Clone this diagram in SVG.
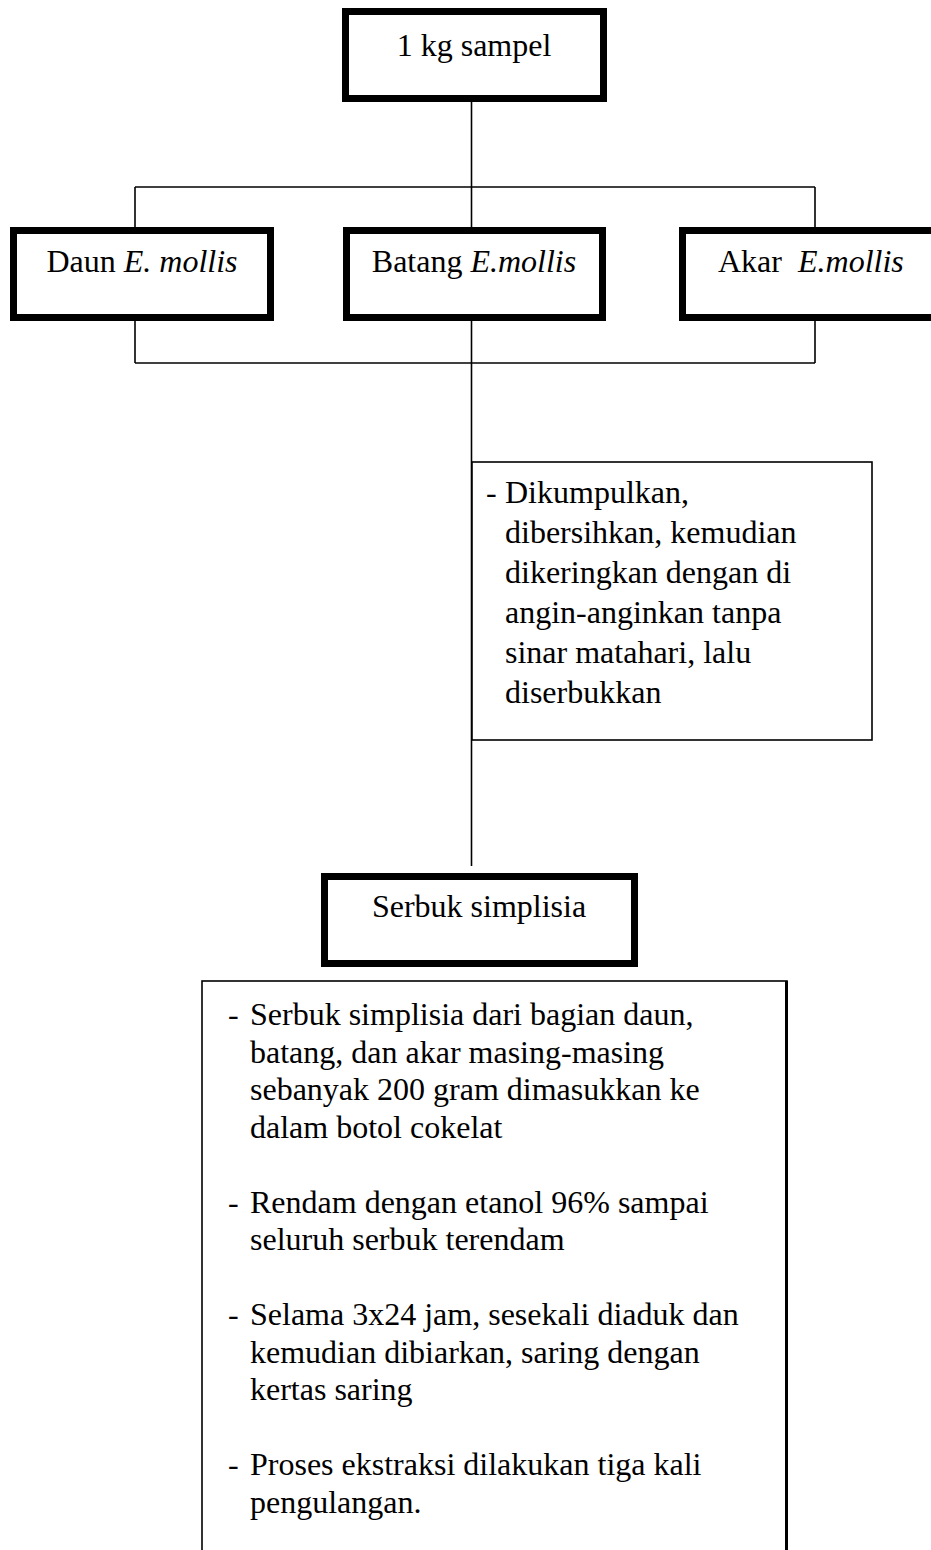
<svg xmlns="http://www.w3.org/2000/svg" width="931" height="1550" viewBox="0 0 931 1550">
<style>
  .bg { fill: #ffffff; }
  .thick { fill: #ffffff; stroke: #000000; stroke-width: 7; }
  .thin { fill: #ffffff; stroke: #000000; stroke-width: 1.6; }
  .conn { fill: none; stroke: #000000; stroke-width: 1.6; }
  .t { font-family: "Liberation Serif", "Times New Roman", serif; font-size: 32px; fill: #000000; }
  .c { text-anchor: middle; }
  .i { font-style: italic; }
</style>
<rect class="bg" x="0" y="0" width="931" height="1550"/>

<g id="connectors">
  <line class="conn" x1="471.5" y1="102" x2="471.5" y2="228"/>
  <line class="conn" x1="135" y1="187" x2="815" y2="187"/>
  <line class="conn" x1="135" y1="187" x2="135" y2="228"/>
  <line class="conn" x1="815" y1="187" x2="815" y2="228"/>
  <line class="conn" x1="135" y1="321" x2="135" y2="363"/>
  <line class="conn" x1="815" y1="321" x2="815" y2="363"/>
  <line class="conn" x1="135" y1="363" x2="815" y2="363"/>
  <line class="conn" x1="471.5" y1="321" x2="471.5" y2="866"/>
</g>

<g id="node-sampel">
  <rect class="thick" x="345.5" y="11.5" width="258" height="87"/>
  <text class="t c" x="474" y="56">1 kg sampel</text>
</g>

<g id="node-daun">
  <rect class="thick" x="13.5" y="230.5" width="257" height="87"/>
  <text class="t c" x="142" y="272">Daun <tspan class="i">E. mollis</tspan></text>
</g>

<g id="node-batang">
  <rect class="thick" x="346.5" y="230.5" width="256" height="87"/>
  <text class="t c" x="474" y="272">Batang <tspan class="i">E.mollis</tspan></text>
</g>

<g id="node-akar">
  <rect class="thick" x="682.5" y="230.5" width="264" height="87"/>
  <text class="t" x="718" y="272">Akar<tspan class="i" x="798">E.mollis</tspan></text>
</g>

<g id="node-proses1">
  <rect class="thin" x="472" y="462" width="400" height="278"/>
  <text class="t" x="486" y="503">-</text>
  <text class="t" x="505" y="503">Dikumpulkan,</text>
  <text class="t" x="505" y="543">dibersihkan, kemudian</text>
  <text class="t" x="505" y="583">dikeringkan dengan di</text>
  <text class="t" x="505" y="623">angin-anginkan tanpa</text>
  <text class="t" x="505" y="663">sinar matahari, lalu</text>
  <text class="t" x="505" y="703">diserbukkan</text>
</g>

<g id="node-serbuk">
  <rect class="thick" x="324.5" y="876.5" width="310" height="87"/>
  <text class="t c" x="479" y="917">Serbuk simplisia</text>
</g>

<g id="node-proses2">
  <rect class="thin" x="202" y="981" width="585" height="600"/>
  <line x1="786.5" y1="981" x2="786.5" y2="1550" stroke="#000000" stroke-width="3"/>
  <text class="t" x="228" y="1025">-</text>
  <text class="t" x="250" y="1025">Serbuk simplisia dari bagian daun,</text>
  <text class="t" x="250" y="1062.5">batang, dan akar masing-masing</text>
  <text class="t" x="250" y="1100">sebanyak 200 gram dimasukkan ke</text>
  <text class="t" x="250" y="1137.5">dalam botol cokelat</text>
  <text class="t" x="228" y="1212.5">-</text>
  <text class="t" x="250" y="1212.5">Rendam dengan etanol 96% sampai</text>
  <text class="t" x="250" y="1250">seluruh serbuk terendam</text>
  <text class="t" x="228" y="1325">-</text>
  <text class="t" x="250" y="1325">Selama 3x24 jam, sesekali diaduk dan</text>
  <text class="t" x="250" y="1362.5">kemudian dibiarkan, saring dengan</text>
  <text class="t" x="250" y="1400">kertas saring</text>
  <text class="t" x="228" y="1475">-</text>
  <text class="t" x="250" y="1475">Proses ekstraksi dilakukan tiga kali</text>
  <text class="t" x="250" y="1512.5">pengulangan.</text>
</g>
</svg>
